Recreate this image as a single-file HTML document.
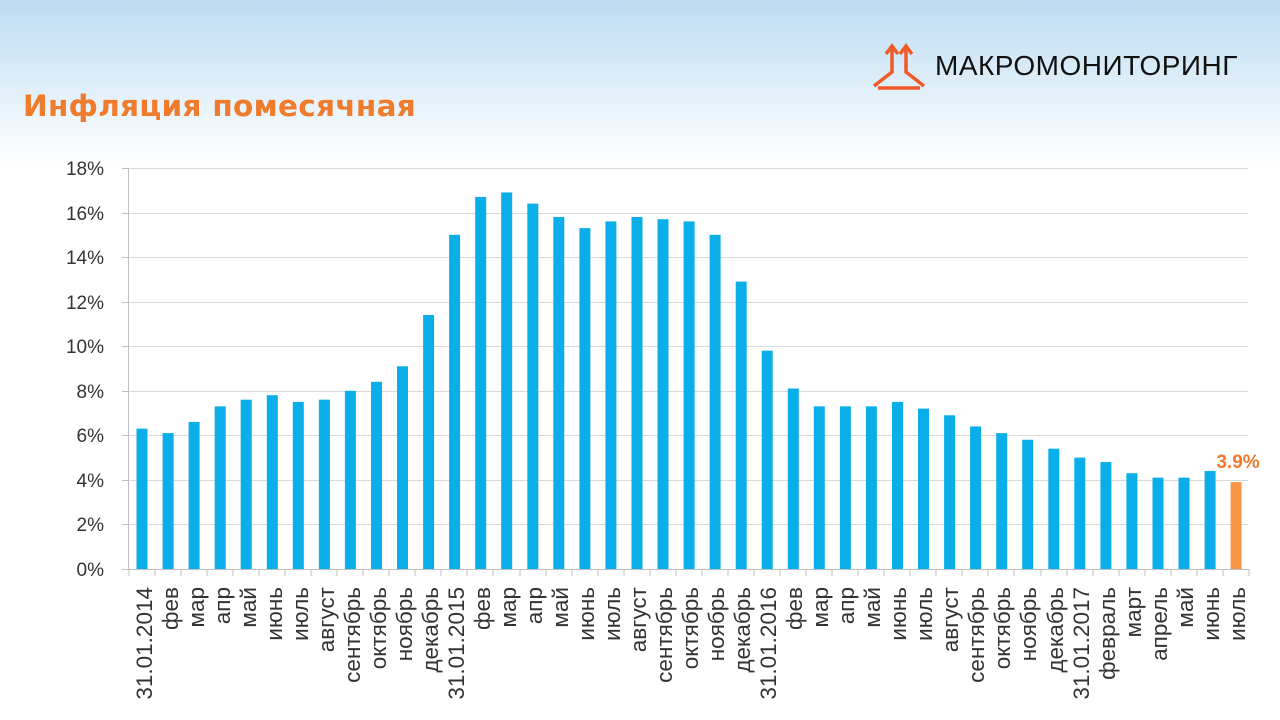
<!DOCTYPE html>
<html><head><meta charset="utf-8"><style>
html,body{margin:0;padding:0;}
body{width:1280px;height:720px;overflow:hidden;background:linear-gradient(#bcdcf2 0px,#d4e9f7 60px,#eef6fc 120px,#ffffff 170px);font-family:"Liberation Sans",sans-serif;position:relative;}
.title{position:absolute;left:23px;top:89px;font-family:"DejaVu Sans",sans-serif;font-size:29.5px;font-weight:bold;color:#ef7b2c;white-space:nowrap;letter-spacing:0.3px;}
.logo{position:absolute;left:935px;top:50px;font-size:28px;color:#111;letter-spacing:0.5px;}
</style></head><body>
<div class="title">Инфляция помесячная</div>
<svg style="position:absolute;left:870px;top:42px" width="58" height="50" viewBox="0 0 58 50">
<g stroke="#ef5a28" stroke-width="3.5" fill="none">
<path d="M22 4 L22 30 L4 44 M36 4 L36 30 L54 44 M8 46 L50 46 M16 12 L22 4 L28 12 M30 12 L36 4 L42 12"/>
</g></svg>
<div class="logo">МАКРОМОНИТОРИНГ</div>
<svg width="1280" height="720" style="position:absolute;left:0;top:0" font-family="Liberation Sans, sans-serif">
<g stroke="#d9d9d9" stroke-width="1">
<line x1="128" x2="1248" y1="168.5" y2="168.5"/><line x1="128" x2="1248" y1="213.5" y2="213.5"/><line x1="128" x2="1248" y1="257.5" y2="257.5"/><line x1="128" x2="1248" y1="302.5" y2="302.5"/><line x1="128" x2="1248" y1="346.5" y2="346.5"/><line x1="128" x2="1248" y1="391.5" y2="391.5"/><line x1="128" x2="1248" y1="435.5" y2="435.5"/><line x1="128" x2="1248" y1="480.5" y2="480.5"/><line x1="128" x2="1248" y1="524.5" y2="524.5"/>
</g>
<g stroke="#bfbfbf" stroke-width="1">
<line x1="128.5" x2="128.5" y1="168" y2="569"/>
<line x1="122" x2="128" y1="168.5" y2="168.5"/><line x1="122" x2="128" y1="213.5" y2="213.5"/><line x1="122" x2="128" y1="257.5" y2="257.5"/><line x1="122" x2="128" y1="302.5" y2="302.5"/><line x1="122" x2="128" y1="346.5" y2="346.5"/><line x1="122" x2="128" y1="391.5" y2="391.5"/><line x1="122" x2="128" y1="435.5" y2="435.5"/><line x1="122" x2="128" y1="480.5" y2="480.5"/><line x1="122" x2="128" y1="524.5" y2="524.5"/>
</g>
<g font-size="19" fill="#333" text-anchor="end">
<text x="104" y="175">18%</text><text x="104" y="220">16%</text><text x="104" y="264">14%</text><text x="104" y="309">12%</text><text x="104" y="353">10%</text><text x="104" y="398">8%</text><text x="104" y="442">6%</text><text x="104" y="487">4%</text><text x="104" y="531">2%</text><text x="104" y="576">0%</text>
</g>
<g transform="translate(0,569) scale(1,-22.28)" fill="#0aaee8">
<rect x="136.5" y="0" width="11" height="6.3"/><rect x="162.6" y="0" width="11" height="6.1"/><rect x="188.6" y="0" width="11" height="6.6"/><rect x="214.7" y="0" width="11" height="7.3"/><rect x="240.7" y="0" width="11" height="7.6"/><rect x="266.8" y="0" width="11" height="7.8"/><rect x="292.8" y="0" width="11" height="7.5"/><rect x="318.9" y="0" width="11" height="7.6"/><rect x="344.9" y="0" width="11" height="8.0"/><rect x="371.0" y="0" width="11" height="8.4"/><rect x="397.0" y="0" width="11" height="9.1"/><rect x="423.1" y="0" width="11" height="11.4"/><rect x="449.1" y="0" width="11" height="15.0"/><rect x="475.2" y="0" width="11" height="16.7"/><rect x="501.2" y="0" width="11" height="16.9"/><rect x="527.3" y="0" width="11" height="16.4"/><rect x="553.3" y="0" width="11" height="15.8"/><rect x="579.4" y="0" width="11" height="15.3"/><rect x="605.4" y="0" width="11" height="15.6"/><rect x="631.5" y="0" width="11" height="15.8"/><rect x="657.5" y="0" width="11" height="15.7"/><rect x="683.6" y="0" width="11" height="15.6"/><rect x="709.6" y="0" width="11" height="15.0"/><rect x="735.7" y="0" width="11" height="12.9"/><rect x="761.7" y="0" width="11" height="9.8"/><rect x="787.8" y="0" width="11" height="8.1"/><rect x="813.8" y="0" width="11" height="7.3"/><rect x="839.9" y="0" width="11" height="7.3"/><rect x="865.9" y="0" width="11" height="7.3"/><rect x="892.0" y="0" width="11" height="7.5"/><rect x="918.0" y="0" width="11" height="7.2"/><rect x="944.1" y="0" width="11" height="6.9"/><rect x="970.1" y="0" width="11" height="6.4"/><rect x="996.2" y="0" width="11" height="6.1"/><rect x="1022.2" y="0" width="11" height="5.8"/><rect x="1048.3" y="0" width="11" height="5.4"/><rect x="1074.3" y="0" width="11" height="5.0"/><rect x="1100.4" y="0" width="11" height="4.8"/><rect x="1126.4" y="0" width="11" height="4.3"/><rect x="1152.5" y="0" width="11" height="4.1"/><rect x="1178.5" y="0" width="11" height="4.1"/><rect x="1204.6" y="0" width="11" height="4.4"/><rect x="1230.6" y="0" width="11" height="3.9" fill="#f79646"/>
</g>
<text x="1238" y="468" font-size="19" font-weight="bold" fill="#ef7b2c" text-anchor="middle">3.9%</text>
<g stroke="#bfbfbf" stroke-width="1">
<line x1="122" x2="1249" y1="569.5" y2="569.5"/>
<line x1="129" x2="129" y1="569" y2="576"/><line x1="155" x2="155" y1="569" y2="576"/><line x1="181" x2="181" y1="569" y2="576"/><line x1="207" x2="207" y1="569" y2="576"/><line x1="233" x2="233" y1="569" y2="576"/><line x1="259" x2="259" y1="569" y2="576"/><line x1="285" x2="285" y1="569" y2="576"/><line x1="311" x2="311" y1="569" y2="576"/><line x1="337" x2="337" y1="569" y2="576"/><line x1="363" x2="363" y1="569" y2="576"/><line x1="389" x2="389" y1="569" y2="576"/><line x1="415" x2="415" y1="569" y2="576"/><line x1="441" x2="441" y1="569" y2="576"/><line x1="467" x2="467" y1="569" y2="576"/><line x1="493" x2="493" y1="569" y2="576"/><line x1="520" x2="520" y1="569" y2="576"/><line x1="546" x2="546" y1="569" y2="576"/><line x1="572" x2="572" y1="569" y2="576"/><line x1="598" x2="598" y1="569" y2="576"/><line x1="624" x2="624" y1="569" y2="576"/><line x1="650" x2="650" y1="569" y2="576"/><line x1="676" x2="676" y1="569" y2="576"/><line x1="702" x2="702" y1="569" y2="576"/><line x1="728" x2="728" y1="569" y2="576"/><line x1="754" x2="754" y1="569" y2="576"/><line x1="780" x2="780" y1="569" y2="576"/><line x1="806" x2="806" y1="569" y2="576"/><line x1="832" x2="832" y1="569" y2="576"/><line x1="858" x2="858" y1="569" y2="576"/><line x1="884" x2="884" y1="569" y2="576"/><line x1="910" x2="910" y1="569" y2="576"/><line x1="936" x2="936" y1="569" y2="576"/><line x1="962" x2="962" y1="569" y2="576"/><line x1="988" x2="988" y1="569" y2="576"/><line x1="1014" x2="1014" y1="569" y2="576"/><line x1="1041" x2="1041" y1="569" y2="576"/><line x1="1067" x2="1067" y1="569" y2="576"/><line x1="1093" x2="1093" y1="569" y2="576"/><line x1="1119" x2="1119" y1="569" y2="576"/><line x1="1145" x2="1145" y1="569" y2="576"/><line x1="1171" x2="1171" y1="569" y2="576"/><line x1="1197" x2="1197" y1="569" y2="576"/><line x1="1223" x2="1223" y1="569" y2="576"/><line x1="1249" x2="1249" y1="569" y2="576"/>
</g>
<g font-size="22.5" fill="#333" text-anchor="end">
<text transform="translate(152,587) rotate(-90)">31.01.2014</text>
<text transform="translate(178,587) rotate(-90)">фев</text>
<text transform="translate(204,587) rotate(-90)">мар</text>
<text transform="translate(230,587) rotate(-90)">апр</text>
<text transform="translate(256,587) rotate(-90)">май</text>
<text transform="translate(282,587) rotate(-90)">июнь</text>
<text transform="translate(308,587) rotate(-90)">июль</text>
<text transform="translate(334,587) rotate(-90)">август</text>
<text transform="translate(360,587) rotate(-90)">сентябрь</text>
<text transform="translate(386,587) rotate(-90)">октябрь</text>
<text transform="translate(412,587) rotate(-90)">ноябрь</text>
<text transform="translate(438,587) rotate(-90)">декабрь</text>
<text transform="translate(464,587) rotate(-90)">31.01.2015</text>
<text transform="translate(490,587) rotate(-90)">фев</text>
<text transform="translate(516,587) rotate(-90)">мар</text>
<text transform="translate(542,587) rotate(-90)">апр</text>
<text transform="translate(568,587) rotate(-90)">май</text>
<text transform="translate(594,587) rotate(-90)">июнь</text>
<text transform="translate(620,587) rotate(-90)">июль</text>
<text transform="translate(646,587) rotate(-90)">август</text>
<text transform="translate(672,587) rotate(-90)">сентябрь</text>
<text transform="translate(698,587) rotate(-90)">октябрь</text>
<text transform="translate(724,587) rotate(-90)">ноябрь</text>
<text transform="translate(750,587) rotate(-90)">декабрь</text>
<text transform="translate(776,587) rotate(-90)">31.01.2016</text>
<text transform="translate(802,587) rotate(-90)">фев</text>
<text transform="translate(828,587) rotate(-90)">мар</text>
<text transform="translate(854,587) rotate(-90)">апр</text>
<text transform="translate(880,587) rotate(-90)">май</text>
<text transform="translate(906,587) rotate(-90)">июнь</text>
<text transform="translate(932,587) rotate(-90)">июль</text>
<text transform="translate(958,587) rotate(-90)">август</text>
<text transform="translate(984,587) rotate(-90)">сентябрь</text>
<text transform="translate(1010,587) rotate(-90)">октябрь</text>
<text transform="translate(1036,587) rotate(-90)">ноябрь</text>
<text transform="translate(1063,587) rotate(-90)">декабрь</text>
<text transform="translate(1089,587) rotate(-90)">31.01.2017</text>
<text transform="translate(1115,587) rotate(-90)">февраль</text>
<text transform="translate(1141,587) rotate(-90)">март</text>
<text transform="translate(1167,587) rotate(-90)">апрель</text>
<text transform="translate(1193,587) rotate(-90)">май</text>
<text transform="translate(1219,587) rotate(-90)">июнь</text>
<text transform="translate(1245,587) rotate(-90)">июль</text>
</g>
</svg>
</body></html>
